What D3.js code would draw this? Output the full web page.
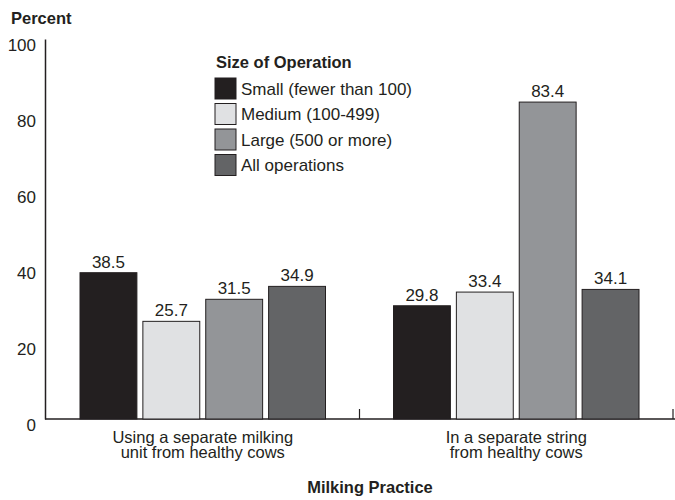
<!DOCTYPE html>
<html><head><meta charset="utf-8">
<script src="https://cdn.jsdelivr.net/npm/d3@7"></script>
<style>body{margin:0;background:#fff}svg{display:block}text{font-family:"Liberation Sans",Arial,sans-serif;fill:#231f20}</style>
</head><body><svg id="c" width="675" height="500"></svg>
<script>
const practices = [["Using a separate milking","unit from healthy cows"],["In a separate string","from healthy cows"]];
const sizes = ["Small (fewer than 100)","Medium (100-499)","Large (500 or more)","All operations"];
const small = [38.5, 29.8];
const medium = [25.7, 33.4];
const large = [31.5, 83.4];
const allOps = [34.9, 34.1];
const yTicks = [0,20,40,60,80,100];
const colors = ["#231f20","#e0e1e3","#939598","#636466"];

const series = [small, medium, large, allOps];
const svg = d3.select("#c");
const x0 = d3.scaleBand().domain([0,1]).range([46,673]).paddingInner(0).paddingOuter(0);
const x1 = d3.scaleBand().domain(d3.range(4)).range([34, x0.bandwidth()-34]).paddingInner(0.095).paddingOuter(0);
const y = d3.scaleLinear().domain([0,100]).range([419,39]);

// y axis
const ya = svg.append("g").attr("transform","translate(45,0)")
  .call(d3.axisLeft(y).tickValues(yTicks).tickSize(0).tickPadding(9));
ya.select(".domain").attr("stroke","#231f20").attr("stroke-width",1.5);
ya.selectAll("text").attr("font-size",17).attr("dy","0.68em").style("font-family","Liberation Sans, Arial").attr("fill","#231f20");

// x axis
const xa = svg.append("g").attr("transform","translate(0,419)");
xa.append("line").attr("x1",45).attr("x2",675).attr("stroke","#231f20").attr("stroke-width",1.5);
[1,2].forEach(i=>{
  const xx = i<2 ? x0(i) : x0.range()[1];
  xa.append("line").attr("x1",xx).attr("x2",xx).attr("y1",0).attr("y2",-10).attr("stroke","#231f20").attr("stroke-width",1.2);
});

// bars
practices.forEach((p,gi)=>{
  const g = svg.append("g").attr("transform",`translate(${x0(gi)},0)`);
  series.forEach((s,si)=>{
    g.append("rect").attr("x",x1(si)).attr("width",x1.bandwidth())
      .attr("y",y(s[gi])).attr("height",y(0)-y(s[gi]))
      .attr("fill",colors[si]).attr("stroke","#231f20").attr("stroke-width",1);
    g.append("text").attr("x",x1(si)+x1.bandwidth()/2).attr("y",y(s[gi])-5)
      .attr("text-anchor","middle").attr("font-size",17).text(s[gi].toFixed(1));
  });
  const t = svg.append("text").attr("x",x0(gi)+x0.bandwidth()/2).attr("y",443)
    .attr("text-anchor","middle").attr("font-size",16.5);
  p.forEach((line,li)=>t.append("tspan").attr("x",x0(gi)+x0.bandwidth()/2).attr("dy",li?14.5:0).text(line));
});

// titles
svg.append("text").attr("x",11).attr("y",24).attr("font-size",16.5).attr("font-weight","bold").text("Percent");
svg.append("text").attr("x",370).attr("y",493).attr("text-anchor","middle").attr("font-size",16.5).attr("font-weight","bold").text("Milking Practice");

// legend
const lg = svg.append("g");
lg.append("text").attr("x",216).attr("y",68).attr("font-size",16.5).attr("font-weight","bold").text("Size of Operation");
sizes.forEach((s,i)=>{
  const yy = 78 + i*25.5;
  lg.append("rect").attr("x",215).attr("y",yy).attr("width",21).attr("height",21)
    .attr("fill",colors[i]).attr("stroke","#231f20").attr("stroke-width",1);
  lg.append("text").attr("x",241).attr("y",yy+16.5).attr("font-size",17).text(s);
});
</script></body></html>
